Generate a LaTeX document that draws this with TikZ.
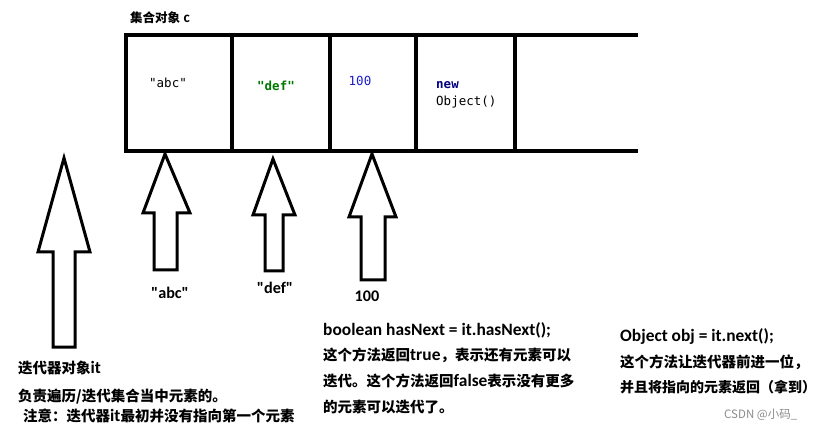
\documentclass[tikz,border=0pt]{standalone}
\usepackage{fontspec}
\setmainfont{Carlito}[Scale=1.2,Ligatures=TeXOff]
\newfontfamily\cj{Noto Sans CJK SC}
\newfontfamily\monof{DejaVu Sans Mono}
\definecolor{defgreen}{RGB}{0,120,0}
\definecolor{numblue}{RGB}{30,30,210}
\definecolor{kwnavy}{RGB}{0,0,128}
\newcommand\blockarrow[8]{% tipx tipy headl headr shaftl shaftr heady bottomy
  \draw[arrowline] (#1,#2) -- (#4,#7) -- (#6,#7) -- (#6,#8) -- (#5,#8) -- (#5,#7) -- (#3,#7) -- cycle;}
\begin{document}
\begin{tikzpicture}[x=1pt,y=-1pt,
  arrayline/.style={line width=4pt,line cap=rect},
  arrowline/.style={line width=3pt,line join=miter},
  txt/.style={inner sep=0pt,anchor=west,font=\fontsize{14.5}{17}\selectfont\bfseries},
  lbl/.style={inner sep=0pt,font=\fontsize{13.5}{16}\selectfont\bfseries},
  cell/.style={inner sep=0pt,font=\fontsize{12.5}{15}\selectfont\monof}]
\useasboundingbox[fill=white] (0,0) rectangle (819,430);
% collection
\node[inner sep=0pt,anchor=west,font=\fontsize{12.5}{15}\selectfont\bfseries] (title) at (130,18) {{\cj 集合对象} c};
\draw[arrayline] (126,35) -- (636,35);
\draw[arrayline] (126,151) -- (636,151);
\foreach \x in {126,232,330,416,515} \draw[arrayline] (\x,35) -- (\x,151);
\node[cell] (c1) at (168,83) {"abc"};
\node[cell,text=defgreen,font=\fontsize{12.5}{15}\selectfont\monof\bfseries] (c2) at (276,86) {"def"};
\node[cell,text=numblue] (c3) at (360,81) {100};
\node[cell,anchor=west,text=kwnavy,font=\fontsize{12.5}{15}\selectfont\monof\bfseries] (c4a) at (436,85) {new};
\node[cell,anchor=west] (c4b) at (436,102) {Object()};
% arrows
\blockarrow{64}{158}{38}{90}{53}{75}{252}{347}
\blockarrow{165}{154}{143}{190}{154}{177}{213}{270}
\blockarrow{273}{159}{253}{295}{265}{283}{215}{271}
\blockarrow{372}{154}{349}{396}{361}{385}{217}{280}
% labels
\node[lbl] (l1) at (170,293) {"abc"};
\node[lbl] (l2) at (275,288) {"def"};
\node[lbl] (l3) at (367,296) {100};
% left text
\node[txt] (t1) at (18,368) {{\cj 迭代器对象}it};
\node[txt] (t2) at (18,397) {{\cj 负责遍历/迭代集合当中元素的。}};
\node[txt] (t3) at (23,416) {{\cj 注意：迭代器}it{\cj 最初并没有指向第一个元素}};
% middle text
\node[txt] (m1) at (323,330) {boolean hasNext = it.hasNext();};
\node[txt] (m2) at (323,355) {{\cj 这个方法返回}true{\cj ，表示还有元素可以}};
\node[txt] (m3) at (323,381) {{\cj 迭代。这个方法返回}false{\cj 表示没有更多}};
\node[txt] (m4) at (323,407) {{\cj 的元素可以迭代了。}};
% right text
\node[txt] (r1) at (620,337) {Object obj = it.next();};
\node[txt] (r2) at (620,362) {{\cj 这个方法让迭代器前进一位，}};
\node[txt,font=\fontsize{14}{17}\selectfont\bfseries] (r3) at (620,387) {{\cj 并且将指向的元素返回（拿到）}};
% watermark
\node[inner sep=0pt,anchor=west,text=black!45,font=\fontsize{11.5}{14}\selectfont\cj] (wm) at (724,415) {CSDN @小码\_};
\end{tikzpicture}
\end{document}
